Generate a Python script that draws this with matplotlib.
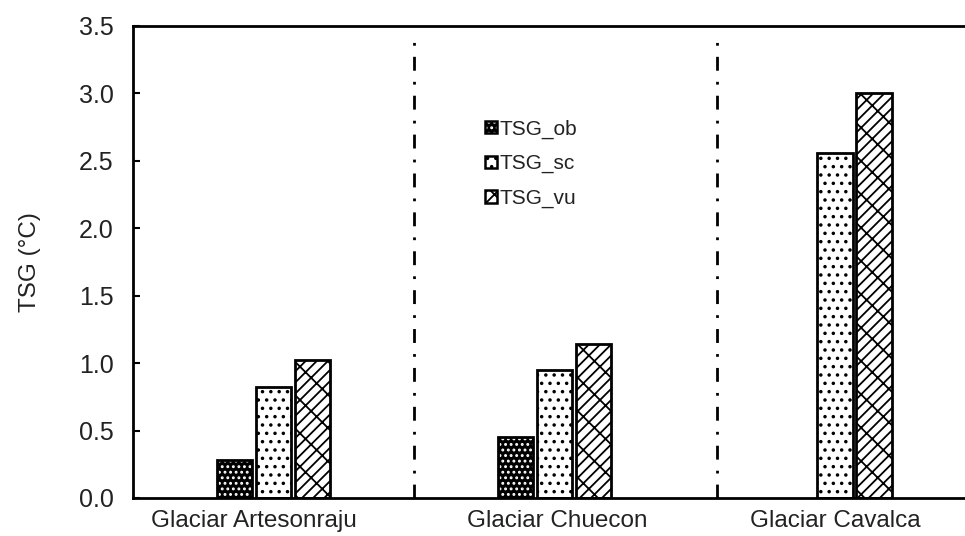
import matplotlib.pyplot as plt
import numpy as np
from matplotlib.patches import Patch
from matplotlib.legend_handler import HandlerTuple

plt.rcParams['font.family'] = ['Liberation Sans', 'DejaVu Sans']
plt.rcParams['hatch.linewidth'] = 1.3

# Glacier groups and temperature gradients (degC)
glaciers = ["Glaciar Artesonraju", "Glaciar Chuecon", "Glaciar Cavalca"]
series = ["TSG_ob", "TSG_sc", "TSG_vu"]
tsg_ob = [0.28, 0.45, 0.0]
tsg_sc = [0.82, 0.95, 2.56]
tsg_vu = [1.02, 1.14, 3.00]
separators = [0.5, 1.58]

values = [tsg_ob, tsg_sc, tsg_vu]
# fill colour, hatch colour, hatch pattern for each series
styles = [("black", "white", "..."),
          ("white", "black", ".."),
          ("white", "black", "//x")]

fig = plt.figure(figsize=(9.65, 5.36), dpi=100)
ax = fig.add_axes([0.1378, 0.0709, 0.873, 0.8806])

x = np.arange(len(glaciers))
width = 0.125
step = 0.139
handles = []
for i, (vals, (fc, hc, hatch)) in enumerate(zip(values, styles)):
    pos = x + (i - 1) * step
    v = np.array(vals)
    keep = v > 0
    ax.bar(pos[keep], v[keep], width, color=fc, edgecolor=hc,
           hatch=hatch, linewidth=0)
    ax.bar(pos[keep], v[keep], width, fill=False, edgecolor="black",
           linewidth=2)
    handles.append((Patch(facecolor=fc, edgecolor=hc, hatch=hatch, linewidth=0),
                    Patch(fill=False, edgecolor="black", linewidth=1.8)))

for s in separators:
    ax.axvline(s, ymin=0, ymax=0.97, color="black", linewidth=2,
               linestyle=(0, (5, 4, 1, 4)))

ax.set_xlim(-0.5, 2.5)
ax.set_ylim(0, 3.5)
ax.set_yticks(np.arange(0, 3.51, 0.5))
ax.set_xticks([-0.07, 1.01, 2.0])
ax.set_xticklabels(glaciers)
ax.tick_params(axis="y", direction="in", length=5, width=1.5, pad=14,
               labelsize=18, labelcolor="#222222")
ax.tick_params(axis="x", length=0, pad=9, labelsize=17.5, labelcolor="#222222")
ax.set_ylabel("TSG (°C)", fontsize=17.5, color="#222222", labelpad=27)

for side in ["top", "left", "bottom"]:
    ax.spines[side].set_linewidth(2)
ax.spines["right"].set_visible(False)

ax.legend(handles, series, handler_map={tuple: HandlerTuple(ndivide=1, pad=0)},
          loc="upper left", bbox_to_anchor=(0.396, 0.842), frameon=False,
          fontsize=15, handlelength=0.55, handleheight=0.55,
          handletextpad=0.15, labelspacing=0.75, labelcolor="#222222")

plt.savefig("out.png", dpi=100)
